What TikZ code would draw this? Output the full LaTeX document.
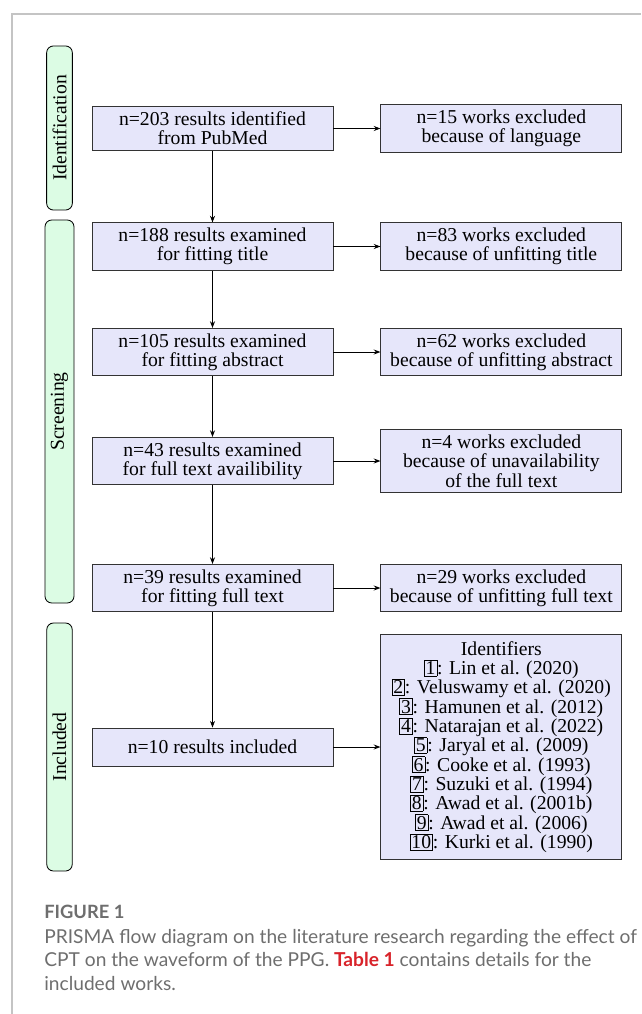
\documentclass[tikz,border=0pt]{standalone}
\usepackage{fontspec}
\setmainfont{Liberation Serif}
\newfontfamily\capfont{Lato}
\usepackage{xcolor}
\usetikzlibrary{arrows.meta, positioning}
\definecolor{boxfill}{HTML}{E6E6FA}
\definecolor{stagefill}{HTML}{DCFCE4}
\definecolor{framegray}{HTML}{C4C4C4}
\definecolor{captiongray}{HTML}{6E6E6E}
\definecolor{tablered}{HTML}{D8232A}
\newcommand{\diagfont}{\fontsize{11.8pt}{11.6pt}\selectfont}
\newcommand{\idnum}[1]{{\setlength{\fboxsep}{0.6pt}\setlength{\fboxrule}{0.4pt}\fbox{#1}}}
\tikzset{
    resbox/.style={draw=black!80, fill=boxfill, line width=0.5pt, minimum width=144.6pt, minimum height=22.8pt, inner ysep=3pt, align=center, font=\diagfont},
    stage/.style={draw, fill=stagefill, line width=0.5pt, rounded corners=4pt, rotate=90, inner ysep=3.5pt, font=\diagfont},
    myarrow/.style={-{Stealth[length=4pt, width=3pt]}, line width=0.5pt},
    capline/.style={inner sep=0pt, align=left, text=captiongray, font=\capfont\fontsize{11.5pt}{14.1pt}\selectfont},
}

\begin{document}
\begin{tikzpicture}[x=0.6pt, y=-0.6pt, node distance=28.2pt]
\useasboundingbox (0,0) rectangle (641,1014);

% frame of the figure
\draw[framegray, line width=0.7pt] (12,1014) -- (12,14) -- (641,14);

% ============================================================
% STAGES
% ============================================================
\node[stage, minimum width=98.4pt] (stIdent) at (59.5,128) {Identification};
\node[stage, minimum width=229.8pt] (stScreen) at (59.5,411.5) {Screening};
\node[stage, minimum width=148.8pt] (stIncl) at (59.5,747) {Included};

% ============================================================
% RESULTS (left column)
% ============================================================
\node[resbox] (res1) at (212.5,128.5) {n=203 results identified\\from PubMed};
\node[resbox] (res2) at (212.5,246.5) {n=188 results examined\\for fitting title};
\node[resbox] (res3) at (212.5,352) {n=105 results examined\\for fitting abstract};
\node[resbox] (res4) at (212.5,461) {n=43 results examined\\for full text availibility};
\node[resbox] (res5) at (212.5,588) {n=39 results examined\\for fitting full text};
\node[resbox] (res6) at (212.5,747) {n=10 results included};

% ============================================================
% EXCLUDED (right column)
% ============================================================
\node[resbox, right=of res1] (exc1) {n=15 works excluded\\because of language};
\node[resbox, right=of res2] (exc2) {n=83 works excluded\\because of unfitting title};
\node[resbox, right=of res3] (exc3) {n=62 works excluded\\because of unfitting abstract};
\node[resbox, right=of res4] (exc4) {n=4 works excluded\\because of unavailability\\of the full text};
\node[resbox, right=of res5] (exc5) {n=29 works excluded\\because of unfitting full text};
\node[resbox, right=of res6, inner ysep=4pt] (ids) {Identifiers\\
    \idnum{1}: Lin et al. (2020)\\
    \idnum{2}: Veluswamy et al. (2020)\\
    \idnum{3}: Hamunen et al. (2012)\\
    \idnum{4}: Natarajan et al. (2022)\\
    \idnum{5}: Jaryal et al. (2009)\\
    \idnum{6}: Cooke et al. (1993)\\
    \idnum{7}: Suzuki et al. (1994)\\
    \idnum{8}: Awad et al. (2001b)\\
    \idnum{9}: Awad et al. (2006)\\
    \idnum{10}: Kurki et al. (1990)};

% arrows
\foreach \a/\b in {res1/res2, res2/res3, res3/res4, res4/res5, res5/res6}
    \draw[myarrow] (\a.south) -- (\b.north);
\foreach \a/\b in {res1/exc1, res2/exc2, res3/exc3, res4/exc4, res5/exc5, res6/ids}
    \draw[myarrow] (\a.east) -- (\b.west);

% ============================================================
% CAPTION
% ============================================================
\node[capline, anchor=base west, font=\capfont\fontsize{11pt}{14pt}\selectfont] (capHead) at (44,918) {\textbf{FIGURE 1}};
\node[capline, anchor=north west] (capBody) at (44,929) {PRISMA flow diagram on the literature research regarding the effect of\\
    CPT on the waveform of the PPG. \textcolor{tablered}{\textbf{Table 1}} contains details for the\\
    included works.};

\end{tikzpicture}
\end{document}
